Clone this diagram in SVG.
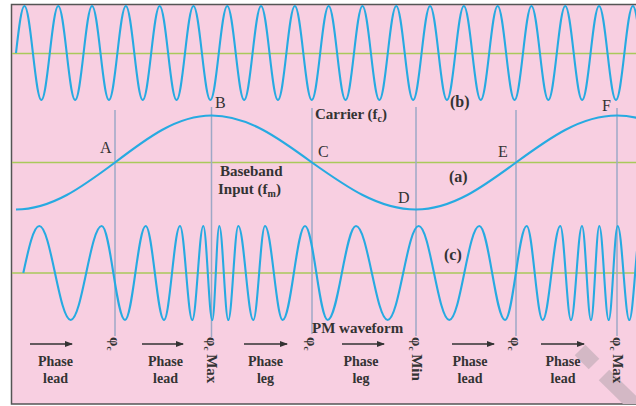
<svg xmlns="http://www.w3.org/2000/svg" width="636" height="406" viewBox="0 0 636 406">
<style>
.wave{fill:none;stroke:#27aae1;stroke-width:2.1}
.axis{stroke:#a9c95b;stroke-width:1.5}
.mark{stroke:#9ea8c6;stroke-width:1.5}
.lbl{font-family:"Liberation Serif",serif;fill:#333;font-size:16px}
.lb{font-family:"Liberation Serif",serif;fill:#333;font-size:16px;font-weight:bold}
.b{font-family:"Liberation Serif",serif;fill:#333;font-weight:bold;font-size:15px}
.ph{font-family:"Liberation Serif",serif;fill:#333;font-weight:bold;font-size:14px;text-anchor:middle}
.arr{stroke:#333;stroke-width:1.5;marker-end:url(#ah)}
.wm{stroke:#d3b8c5;stroke-width:15}
</style>
<defs>
<marker id="ah" markerWidth="8" markerHeight="6" refX="7" refY="3" orient="auto" markerUnits="userSpaceOnUse">
<path d="M0,0 L8,3 L0,6 Z" fill="#333"/>
</marker>
<clipPath id="fr"><rect x="12" y="5" width="630" height="399"/></clipPath>
</defs>
<rect width="636" height="406" fill="#fff"/>
<rect x="11.5" y="4.5" width="640" height="399.5" fill="#f8cfe1" stroke="#555" stroke-width="1.5"/>
<g id="watermark" clip-path="url(#fr)">
<line class="wm" x1="580" y1="350" x2="594" y2="364"/>
<line class="wm" x1="604" y1="375" x2="645" y2="415"/>
</g>
<g id="axes">
<line class="axis" x1="12" y1="53.5" x2="636" y2="53.5"/>
<line class="axis" x1="12" y1="162.5" x2="636" y2="162.5"/>
<line class="axis" x1="12" y1="273" x2="636" y2="273"/>
</g>
<g id="connectors">
<line class="mark" x1="115" y1="110" x2="115" y2="336"/>
<line class="mark" x1="211.5" y1="107" x2="211.5" y2="337"/>
<line class="mark" x1="312" y1="108" x2="312" y2="334"/>
<line class="mark" x1="416" y1="107" x2="416" y2="336"/>
<line class="mark" x1="516" y1="110" x2="516" y2="336"/>
<line class="mark" x1="617" y1="108" x2="617" y2="336"/>
<line class="arr" x1="30" y1="344" x2="72" y2="344"/>
<line class="arr" x1="142" y1="344" x2="183" y2="344"/>
<line class="arr" x1="244" y1="344" x2="287" y2="344"/>
<line class="arr" x1="342" y1="344" x2="384" y2="344"/>
<line class="arr" x1="452" y1="344" x2="494" y2="344"/>
<line class="arr" x1="541" y1="344" x2="584" y2="344"/>
</g>
<g id="carrier" clip-path="url(#fr)">
<path class="wave" d="M16,53 C18.75,28.9 21.39,6 24.45,6 c6.15,0 10.75,94 16.9,94 c6.15,0 10.75,-94 16.9,-94 c6.15,0 10.75,94 16.9,94 c6.15,0 10.75,-94 16.9,-94 c6.15,0 10.75,94 16.9,94 c6.15,0 10.75,-94 16.9,-94 c6.15,0 10.75,94 16.9,94 c6.15,0 10.75,-94 16.9,-94 c6.15,0 10.75,94 16.9,94 c6.15,0 10.75,-94 16.9,-94 c6.15,0 10.75,94 16.9,94 c6.15,0 10.75,-94 16.9,-94 c6.15,0 10.75,94 16.9,94 c6.15,0 10.75,-94 16.9,-94 c6.15,0 10.75,94 16.9,94 c6.15,0 10.75,-94 16.9,-94 c6.15,0 10.75,94 16.9,94 c6.15,0 10.75,-94 16.9,-94 c6.15,0 10.75,94 16.9,94 c6.15,0 10.75,-94 16.9,-94 c6.15,0 10.75,94 16.9,94 c6.15,0 10.75,-94 16.9,-94 c6.15,0 10.75,94 16.9,94 c6.15,0 10.75,-94 16.9,-94 c6.15,0 10.75,94 16.9,94 c6.15,0 10.75,-94 16.9,-94 c6.15,0 10.75,94 16.9,94 c6.15,0 10.75,-94 16.9,-94 c6.15,0 10.75,94 16.9,94 c6.15,0 10.75,-94 16.9,-94 c6.15,0 10.75,94 16.9,94 c6.15,0 10.75,-94 16.9,-94 c6.15,0 10.75,94 16.9,94 c6.15,0 10.75,-94 16.9,-94 c6.15,0 10.75,94 16.9,94 c6.15,0 10.75,-94 16.9,-94 c6.15,0 10.75,94 16.9,94 c6.15,0 10.75,-94 16.9,-94"/>
</g>
<g id="baseband" clip-path="url(#fr)">
<path class="wave" d="M16,209.5 C51.8,209.5 82.7,186.56 115,162.5 C146.5,138.44 176.6,115.5 211.5,115.5 C247.9,115.5 279.2,138.44 312,162.5 C345.9,186.56 378.4,209.5 416,209.5 C452.2,209.5 483.4,186.56 516,162.5 C548.9,138.44 580.4,115.5 617,115.5 C653.6,115.5 685.1,138.44 718,162.5"/>
</g>
<g id="pm" clip-path="url(#fr)">
<path class="wave" d="M23.3,273 C28.5,248.9 33.5,226 39.3,226 C50.73,226 59.27,320 70.7,320 C81.98,320 90.42,226 101.7,226 C110.18,226 116.52,320 125,320 C132.53,320 138.17,226 145.7,226 C152.36,226 157.34,320 164,320 C169.82,320 174.18,226 180,226 C184.48,226 187.82,320 192.3,320 C196.3,320 199.3,226 203.3,226 C206.58,226 209.02,320 212.3,320 C214.85,320 216.75,226 219.3,226 C222.58,226 225.02,320 228.3,320 C231.94,320 234.66,226 238.3,226 C243.76,226 247.84,320 253.3,320 C257.56,320 260.74,226 265,226 C271.44,226 276.26,320 282.7,320 C290.82,320 296.88,226 305,226 C313.26,226 319.44,320 327.7,320 C338,320 345.7,226 356,226 C367.54,226 376.16,320 387.7,320 C398.98,320 407.42,226 418.7,226 C429.84,226 438.16,320 449.3,320 C460.22,320 468.38,226 479.3,226 C488.65,226 495.65,320 505,320 C512.9,320 518.8,226 526.7,226 C532.52,226 536.88,320 542.7,320 C549.11,320 553.89,226 560.3,226 C564.19,226 567.11,320 571,320 C575,320 578,226 582,226 C585.28,226 587.72,320 591,320 C594.02,320 596.28,226 599.3,226 C602.72,226 605.28,320 608.7,320 C611.98,320 614.42,226 617.7,226 C621.92,226 625.08,320 629.3,320 C633.56,320 636.74,226 641,226"/>
</g>
<g id="points">
<text class="lbl" x="100" y="153">A</text>
<text class="lbl" x="215" y="108">B</text>
<text class="lbl" x="318" y="157">C</text>
<text class="lbl" x="398" y="203">D</text>
<text class="lbl" x="498" y="157">E</text>
<text class="lbl" x="602" y="111">F</text>
<text class="lb" x="449" y="182">(a)</text>
<text class="lb" x="450" y="107">(b)</text>
<text class="lb" x="444" y="260">(c)</text>
</g>
<g id="labels">
<text class="b" x="315" y="119">Carrier (f<tspan font-size="10" dy="3">c</tspan><tspan dy="-3">)</tspan></text>
<text class="b" x="220" y="176">Baseband</text>
<text class="b" x="218" y="194">Input (f<tspan font-size="10" dy="3">m</tspan><tspan dy="-3">)</tspan></text>
<text class="b" x="312" y="333">PM waveform</text>
</g>
<g id="phases">
<text class="ph" x="55.5" y="366">Phase</text><text class="ph" x="55.5" y="383">lead</text>
<text class="ph" x="165.5" y="366">Phase</text><text class="ph" x="165.5" y="383">lead</text>
<text class="ph" x="265.5" y="366">Phase</text><text class="ph" x="265.5" y="383">leg</text>
<text class="ph" x="361" y="366">Phase</text><text class="ph" x="361" y="383">leg</text>
<text class="ph" x="470" y="366">Phase</text><text class="ph" x="470" y="383">lead</text>
<text class="ph" x="563" y="366">Phase</text><text class="ph" x="563" y="383">lead</text>
</g>
<g id="phi">
<text class="b" font-size="14" transform="translate(110,337) rotate(90)">φ<tspan font-size="9" dy="3">c</tspan></text>
<text class="b" font-size="14" transform="translate(207,337) rotate(90)">φ<tspan font-size="9" dy="3">c</tspan><tspan dy="-3"> Max</tspan></text>
<text class="b" font-size="14" transform="translate(307,337) rotate(90)">φ<tspan font-size="9" dy="3">c</tspan></text>
<text class="b" font-size="14" transform="translate(412,337) rotate(90)">φ<tspan font-size="9" dy="3">c</tspan><tspan dy="-3"> Min</tspan></text>
<text class="b" font-size="14" transform="translate(511,337) rotate(90)">φ<tspan font-size="9" dy="3">c</tspan></text>
<text class="b" font-size="14" transform="translate(613,337) rotate(90)">φ<tspan font-size="9" dy="3">c</tspan><tspan dy="-3"> Max</tspan></text>
</g>
</svg>
